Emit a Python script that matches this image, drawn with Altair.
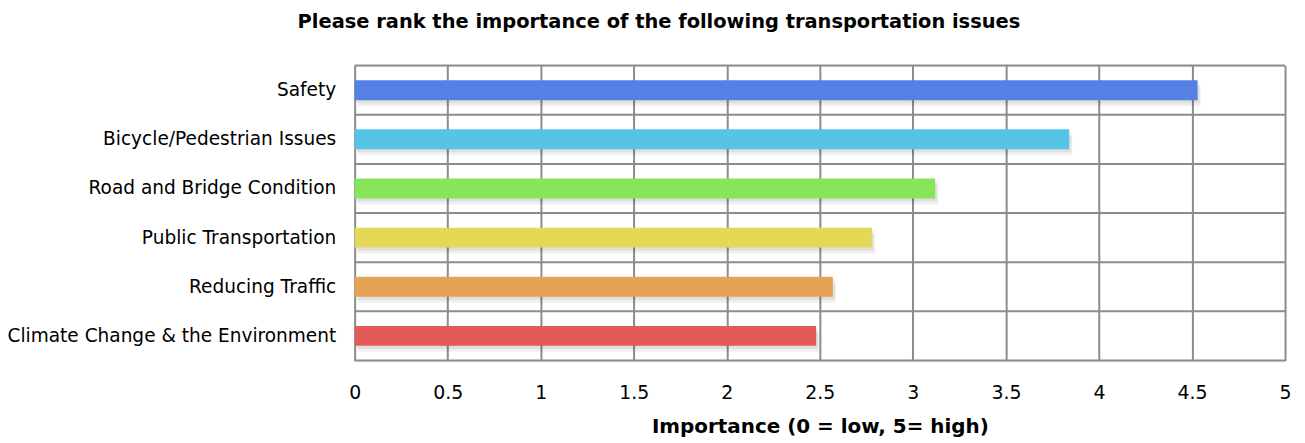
import altair as alt
import pandas as pd

categories = [
    "Safety",
    "Bicycle/Pedestrian Issues",
    "Road and Bridge Condition",
    "Public Transportation",
    "Reducing Traffic",
    "Climate Change & the Environment",
]
values = [4.53, 3.84, 3.12, 2.78, 2.57, 2.48]
colors = ["#5580E6", "#56C4E5", "#88E55A", "#E4D857", "#E6A257", "#E45A57"]
x_ticks = [0, 0.5, 1, 1.5, 2, 2.5, 3, 3.5, 4, 4.5, 5]

df = pd.DataFrame({"issue": categories, "value": values, "color": colors})
df_last = df.iloc[[-1]]

GRID = "#8c8c8c"
LABEL_FONT = "DejaVu Sans"

y_scale = alt.Scale(domain=categories, paddingInner=0, paddingOuter=0)

y_enc = alt.Y(
    "issue:N",
    sort=categories,
    scale=y_scale,
    axis=alt.Axis(
        title=None,
        labelFont=LABEL_FONT,
        labelFontSize=18.6,
        labelColor="#000000",
        labelPadding=19,
        ticks=False,
        domain=False,
        grid=False,
        labelLimit=400,
    ),
)

x_enc = alt.X(
    "value:Q",
    scale=alt.Scale(domain=[0, 5], nice=False),
    axis=alt.Axis(
        values=x_ticks,
        format="~g",
        grid=True,
        gridColor=GRID,
        gridWidth=2,
        gridOpacity=1,
        ticks=False,
        domain=False,
        labelFlush=False,
        labelOverlap=False,
        labelFont=LABEL_FONT,
        labelFontSize=19,
        labelColor="#000000",
        labelPadding=23,
        title="Importance (0 = low, 5= high)",
        titleFont=LABEL_FONT,
        titleFontSize=20,
        titleFontWeight="bold",
        titleColor="#000000",
        titlePadding=14,
    ),
)

rules = alt.Chart(df).mark_rule(color=GRID, strokeWidth=2).encode(
    y=alt.Y("issue:N", sort=categories, scale=y_scale, bandPosition=0)
)
bottom_rule = alt.Chart(df_last).mark_rule(color=GRID, strokeWidth=2).encode(
    y=alt.Y("issue:N", sort=categories, scale=y_scale, bandPosition=1)
)

shadow1 = alt.Chart(df).mark_bar(size=20, color="#000000", opacity=0.07, xOffset=2, yOffset=3).encode(
    x=x_enc, y=y_enc
)
shadow2 = alt.Chart(df).mark_bar(size=20, color="#000000", opacity=0.06, xOffset=3, yOffset=6).encode(
    x=x_enc, y=y_enc
)

bars = alt.Chart(df).mark_bar(size=20).encode(
    x=x_enc,
    y=y_enc,
    color=alt.Color("color:N", scale=None, legend=None),
)

chart = (
    alt.layer(rules, bottom_rule, shadow2, shadow1, bars)
    .properties(
        width=934,
        height=296,
        padding={"left": 348, "top": 57, "right": 12, "bottom": 80},
        autosize=alt.AutoSizeParams(type="none"),
        title=alt.TitleParams(
            "Please rank the importance of the following transportation issues",
            font=LABEL_FONT,
            fontSize=19.5,
            fontWeight="bold",
            color="#000000",
            anchor="middle",
            frame="bounds",
            offset=32,
            dx=10,
        ),
    )
    .configure_view(stroke=GRID, strokeWidth=2)
    .configure(background="white")
)

chart.save("out.html", embed_options={"renderer": "svg", "actions": False})
